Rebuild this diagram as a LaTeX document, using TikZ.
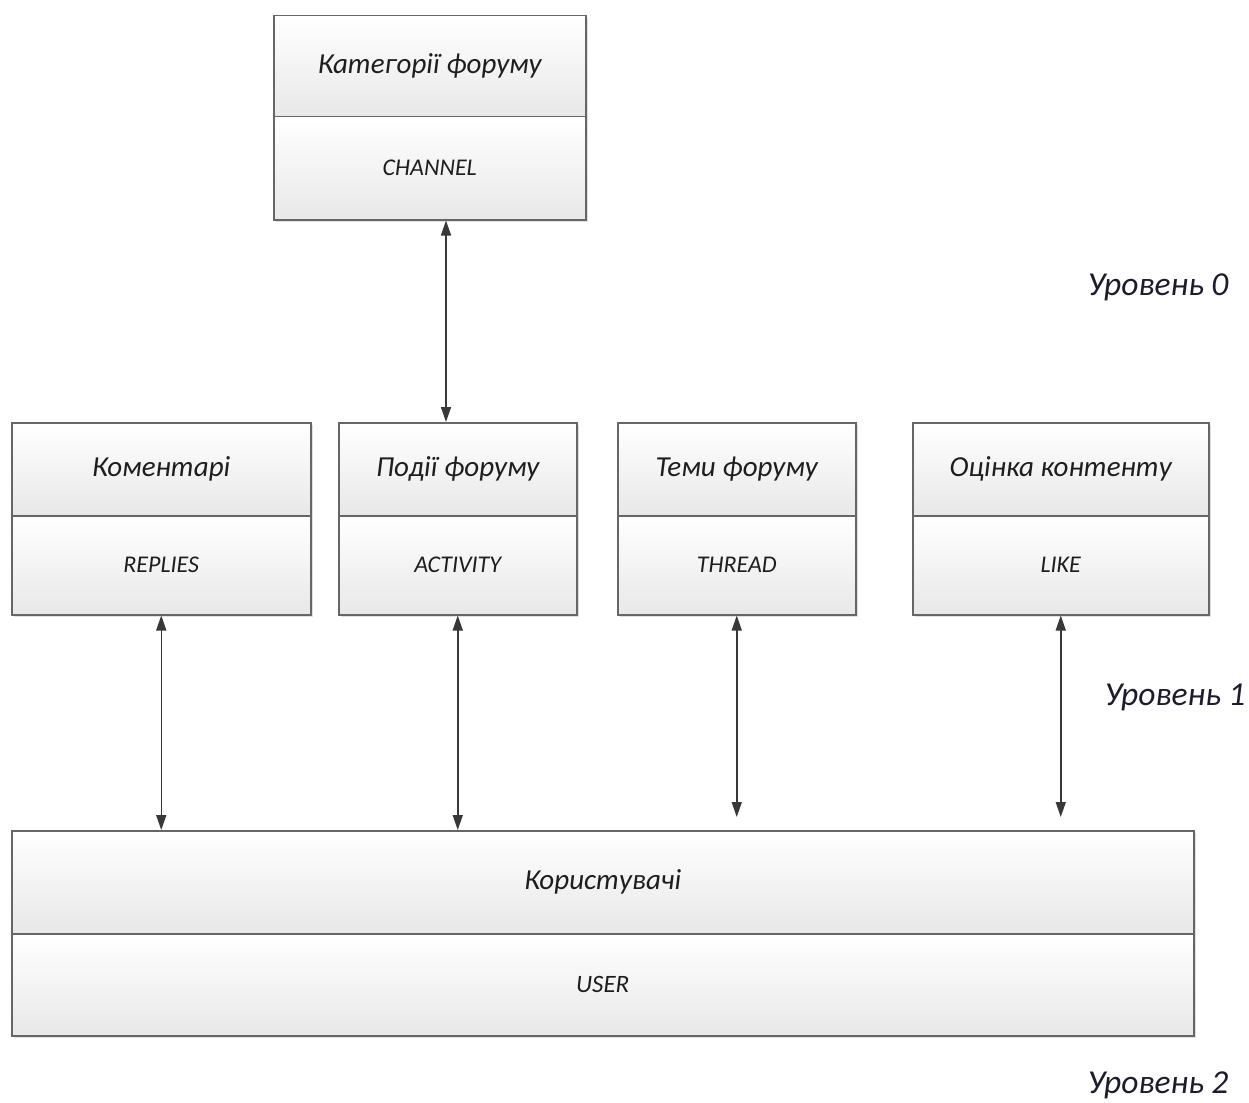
\documentclass[tikz,border=0pt]{standalone}
\usepackage{fontspec}
\setmainfont{Carlito}
\usetikzlibrary{arrows.meta,calc}
\definecolor{edge}{HTML}{666666}
\definecolor{ink}{HTML}{1E1E1E}
\definecolor{lvl}{HTML}{1C1C2C}
\definecolor{arrc}{HTML}{383838}
\tikzset{
  comp/.style={draw=edge, line width=1.5pt, top color=white, bottom color=black!9,
    anchor=north west, inner sep=0pt, text=ink, font=\itshape\fontsize{29}{33}\selectfont},
  sub/.style={comp, font=\itshape\fontsize{24}{28}\selectfont},
  arr/.style={{Triangle[length=15pt,width=10pt]}-{Triangle[length=15pt,width=10pt]}, draw=arrc, fill=arrc, line width=1.5pt},
  lvltext/.style={text=lvl, font=\itshape\fontsize{33.5}{38}\selectfont, inner sep=0pt}
}
\begin{document}
\begin{tikzpicture}[x=1pt,y=-1pt]
\useasboundingbox (0,0) rectangle (1249,1102);
% shadows
\foreach \a/\b/\c/\d in {273/15/585/219, 11/422/310/614, 338/422/576/614, 617/422/855/614, 912/422/1208/614, 11/830/1193/1035}
  \fill[black!12] (\a+3,\b+3) rectangle (\c+3,\d+3);
% level 0
\node[comp, minimum width=312pt, minimum height=101pt] (catT) at (273,15) {Категорії форуму};
\node[sub, minimum width=312pt, minimum height=103pt] (catB) at (273,116) {CHANNEL};
% level 1
\node[comp, minimum width=299pt, minimum height=93pt] (repT) at (11,422) {Коментарі};
\node[sub, minimum width=299pt, minimum height=99pt] (repB) at (11,515) {REPLIES};
\node[comp, minimum width=238pt, minimum height=93pt] (actT) at (338,422) {Події форуму};
\node[sub, minimum width=238pt, minimum height=99pt] (actB) at (338,515) {ACTIVITY};
\node[comp, minimum width=238pt, minimum height=93pt] (thrT) at (617,422) {Теми форуму};
\node[sub, minimum width=238pt, minimum height=99pt] (thrB) at (617,515) {THREAD};
\node[comp, minimum width=296pt, minimum height=93pt] (likT) at (912,422) {Оцінка контенту};
\node[sub, minimum width=296pt, minimum height=99pt] (likB) at (912,515) {LIKE};
% level 2
\node[comp, minimum width=1182pt, minimum height=103pt] (usrT) at (11,830) {Користувачі};
\node[comp, minimum width=1182pt, minimum height=102pt, font=\itshape\fontsize{25}{29}\selectfont] (usrB) at (11,933) {USER};
% level labels
\node[lvltext] (l0) at (1158,287) {Уровень 0};
\node[lvltext] (l1) at (1175,697) {Уровень 1};
\node[lvltext] (l2) at (1158,1085) {Уровень 2};
% connectors
\coordinate (ax) at (446,0);
\draw[arr] (catB.south -| ax) -- (actT.north -| ax);
\draw[arr] (repB.south) -- (usrT.north -| repB.south);
\draw[arr] (actB.south) -- (usrT.north -| actB.south);
\draw[arr, shorten >=13pt] (thrB.south) -- (usrT.north -| thrB.south);
\draw[arr, shorten >=13pt] (likB.south) -- (usrT.north -| likB.south);
\end{tikzpicture}
\end{document}
